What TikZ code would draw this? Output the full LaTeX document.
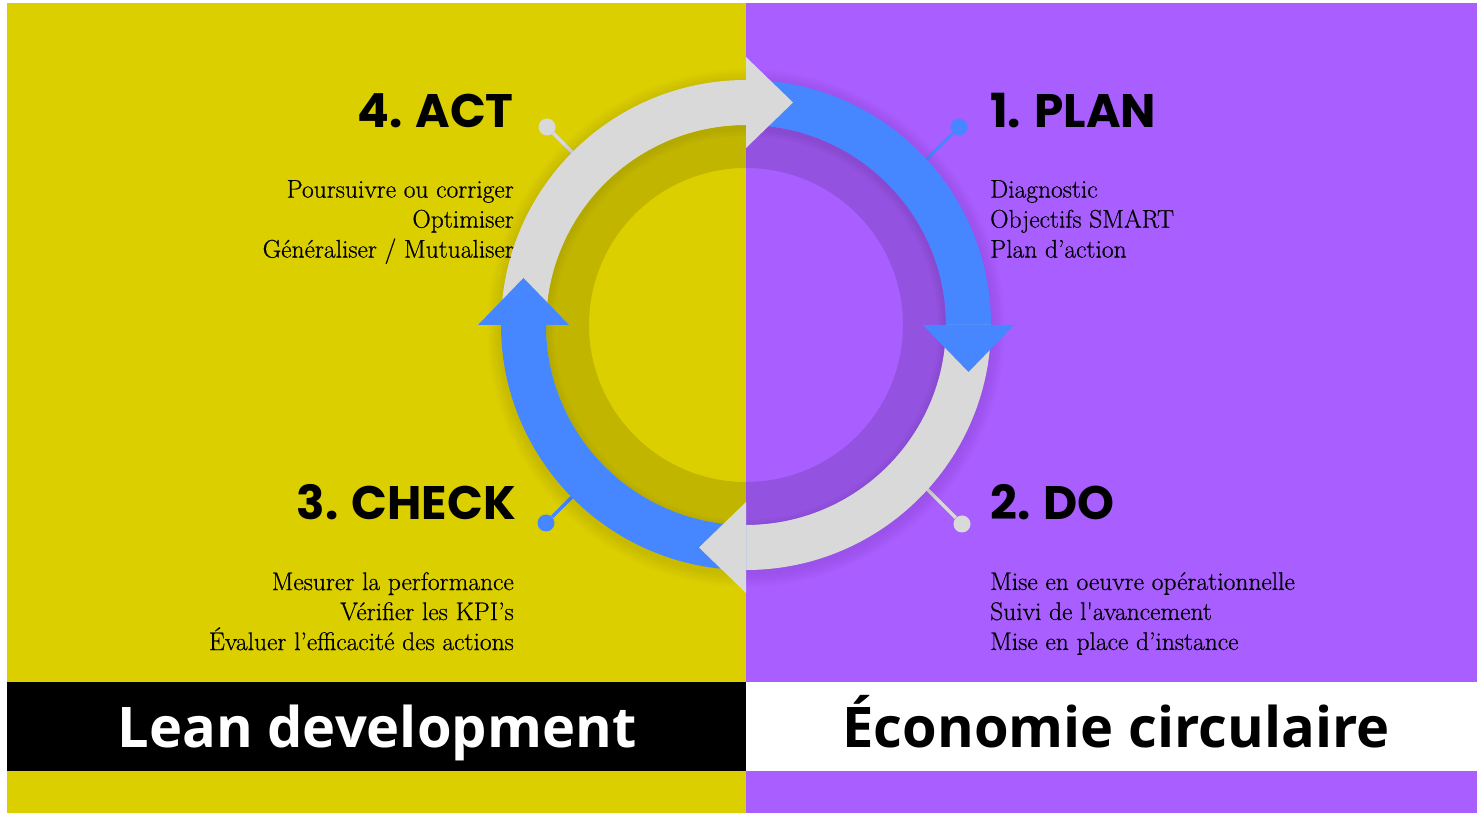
\documentclass[tikz,border=0pt]{standalone}
\usepackage{fontspec}
\newfontfamily\headfont{Poppins}
\newfontfamily\titlefont{Open Sans}
\newfontfamily\stepfont{Latin Modern Roman}[FakeBold=0.6]
\usepackage{xcolor}
\definecolor{LeanYellow}{HTML}{DCCF00}
\definecolor{CircPurple}{HTML}{A95EFF}
\definecolor{CycleBlue}{HTML}{4687FF}
\definecolor{CycleGrey}{HTML}{D9D9D9}
\usetikzlibrary{positioning}

\begin{document}
\begin{tikzpicture}[x=1pt, y=1pt,
    heading/.style={font=\headfont\bfseries\fontsize{47}{50}\selectfont, inner sep=0pt},
    steps/.style={font=\stepfont\fontsize{25.5}{30}\selectfont, inner sep=0pt},
    title/.style={font=\titlefont\bfseries\fontsize{56}{60}\selectfont, inner sep=0pt},
    pin/.style={circle, inner sep=0pt, minimum size=17pt},
    pinline/.style={line width=3.5pt}]
  \useasboundingbox (0,0) rectangle (1477,813);
  \fill[white] (0,0) rectangle (1477,813);
  \fill[LeanYellow] (7,0) rectangle (746,810);
  \fill[CircPurple] (746,0) rectangle (1477,810);
  \fill[black] (7,42) rectangle (746,131);
  \fill[white] (746,42) rectangle (1477,131);

  % pins and their stalks, the ring hides the inner ends
  \node[pin, fill=CycleGrey] (actpin) at (547,686) {};
  \node[pin, fill=CycleBlue] (planpin) at (959,686) {};
  \node[pin, fill=CycleBlue] (checkpin) at (546,290) {};
  \node[pin, fill=CycleGrey] (dopin) at (962,289) {};

  \begin{scope}[shift={(746,488)}]
    \coordinate (actring) at (-164,163);
    \coordinate (planring) at (173,158);
    \coordinate (checkring) at (-165,-163);
    \coordinate (doring) at (176,-159);
    \draw[pinline, CycleGrey] (actpin) -- (actring);
    \draw[pinline, CycleBlue] (planpin) -- (planring);
    \draw[pinline, CycleBlue] (checkpin) -- (checkring);
    \draw[pinline, CycleGrey] (dopin) -- (doring);

    % soft halo under the ring
    \foreach \r in {2,4,...,14}
      \fill[black, opacity=0.012, even odd rule] (0,-3) circle (245+\r) (0,0) circle (230);

    % sunken band inside the ring
    \fill[black, opacity=0.12, even odd rule] (0,0) circle (200) (0,0) circle (157);
    \foreach \r in {2,4,...,8}
      \fill[black, opacity=0.015, even odd rule] (0,0) circle (200) (0,-3) circle (200-\r);

    % ring quarters, then the heads on top
    \foreach \a/\col in {90/CycleBlue, 0/CycleGrey, -90/CycleBlue, 180/CycleGrey}
      \fill[\col] (\a:245) arc[start angle=\a, end angle=\a-90, radius=245]
        -- (\a-90:200) arc[start angle=\a-90, end angle=\a, radius=200] -- cycle;
    \foreach \a/\col in {90/CycleBlue, 0/CycleGrey, -90/CycleBlue, 180/CycleGrey}
      \fill[\col, rotate=\a-90] (177,0) -- (268,0) -- (222.5,-47) -- cycle;
  \end{scope}

  \node[heading, anchor=base east] (act) at (514,685) {4. ACT};
  \node[heading, anchor=base west] (plan) at (990,685) {1. PLAN};
  \node[heading, anchor=base east] (check) at (516,293) {3. CHECK};
  \node[heading, anchor=base west] (do) at (990,293) {2. DO};

  \node[steps, anchor=north east, align=right] (actsteps) at (514,633)
    {Poursuivre ou corriger\\Optimiser\\Généraliser / Mutualiser};
  \node[steps, anchor=north west, align=left] (plansteps) at (990,633)
    {Diagnostic\\Objectifs SMART\\Plan d’action};
  \node[steps, anchor=north east, align=right] (checksteps) at (514,241)
    {Mesurer la performance\\Vérifier les KPI’s\\Évaluer l’efficacité des actions};
  \node[steps, anchor=north west, align=left] (dosteps) at (990,241)
    {Mise en oeuvre opérationnelle\\Suivi de l'avancement\\Mise en place d’instance};

  \node[title, text=white, anchor=base] (lean) at (377,65) {Lean development};
  \node[title, text=black, anchor=base] (eco) at (1116,65) {Économie circulaire};
\end{tikzpicture}
\end{document}
